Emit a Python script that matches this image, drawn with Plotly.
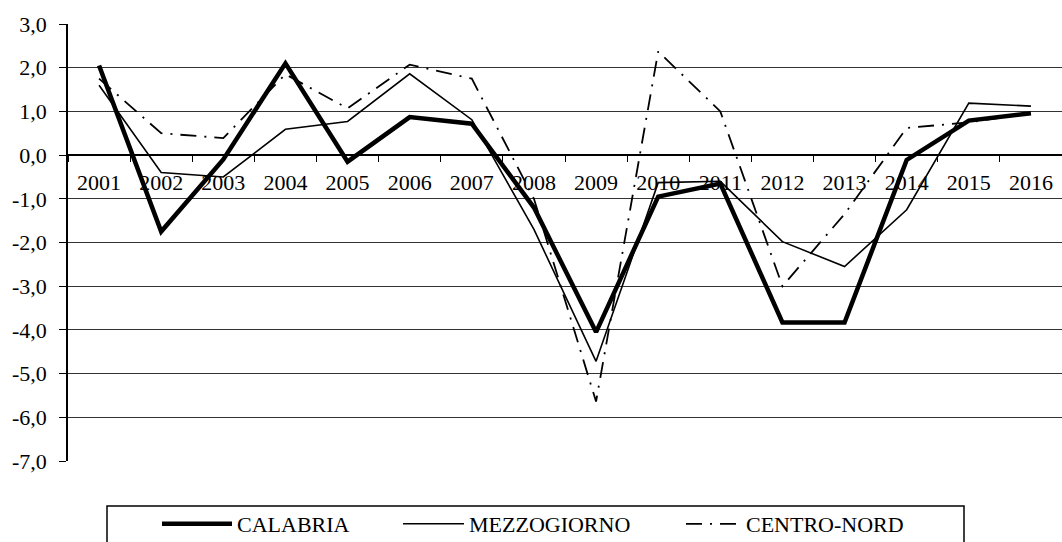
import plotly.graph_objects as go

years = ["2001", "2002", "2003", "2004", "2005", "2006", "2007", "2008",
         "2009", "2010", "2011", "2012", "2013", "2014", "2015", "2016"]
calabria = [2.05, -1.75, -0.10, 2.10, -0.15, 0.87, 0.72, -1.20,
            -4.05, -0.95, -0.65, -3.83, -3.83, -0.11, 0.79, 0.96]
mezzogiorno = [1.60, -0.40, -0.50, 0.59, 0.77, 1.86, 0.81, -1.70,
               -4.72, -0.63, -0.60, -1.98, -2.55, -1.25, 1.19, 1.12]
centro_nord = [1.75, 0.50, 0.39, 1.85, 1.07, 2.07, 1.75, -1.00,
               -5.64, 2.37, 1.00, -3.00, -1.35, 0.62, 0.75, 0.95]

y_tick_vals = [3, 2, 1, 0, -1, -2, -3, -4, -5, -6, -7]
y_tick_labels = ["3,0", "2,0", "1,0", "0,0", "-1,0", "-2,0", "-3,0",
                 "-4,0", "-5,0", "-6,0", "-7,0"]

FONT = "Liberation Serif"
W, H = 1062, 542
ML, MR, MT, MB = 68, 0, 24, 81

fig = go.Figure()
fig.add_trace(go.Scatter(x=years, y=centro_nord, mode="lines", name="CENTRO-NORD",
                         line=dict(color="black", width=1.8, dash="16px,8px,2px,8px"),
                         legend="legend3"))
fig.add_trace(go.Scatter(x=years, y=mezzogiorno, mode="lines", name="MEZZOGIORNO",
                         line=dict(color="black", width=1.6), legend="legend2"))
fig.add_trace(go.Scatter(x=years, y=calabria, mode="lines", name="CALABRIA",
                         line=dict(color="black", width=4.5), legend="legend"))

def leg(xpx, iw):
    return dict(xref="container", yref="container", x=xpx / W, y=1 - 524 / H,
                xanchor="left", yanchor="middle", bgcolor="rgba(0,0,0,0)",
                borderwidth=0, itemwidth=iw, orientation="h",
                font=dict(family=FONT, size=22, color="black"))

fig.update_layout(
    width=W, height=H,
    margin=dict(l=ML, r=MR, t=MT, b=MB),
    plot_bgcolor="white", paper_bgcolor="white",
    showlegend=True,
    legend=leg(157, 70),
    legend2=leg(398, 61),
    legend3=leg(681, 55),
    xaxis=dict(
        type="category", range=[-0.5, 15.5], anchor="free", position=0.7,
        showline=True, linecolor="black", linewidth=1.5,
        showgrid=False, zeroline=False,
        ticks="outside", ticklen=6, tickwidth=1.2, tickcolor="black",
        tickson="boundaries", ticklabelstandoff=8,
        tickfont=dict(family=FONT, size=22, color="black"),
    ),
    yaxis=dict(
        range=[-7, 3], tickvals=y_tick_vals, ticktext=y_tick_labels,
        showline=True, linecolor="black", linewidth=1.5,
        showgrid=True, gridcolor="#333333", gridwidth=1.3, zeroline=False,
        ticks="outside", ticklen=7, tickwidth=1.2, tickcolor="black",
        ticklabelstandoff=8,
        tickfont=dict(family=FONT, size=22, color="black"),
    ),
    shapes=[dict(type="rect", xref="paper", yref="paper",
                 x0=(107 - ML) / (W - ML - MR), x1=(964 - ML) / (W - ML - MR),
                 y0=-(548 - (H - MB)) / (H - MT - MB), y1=-(506 - (H - MB)) / (H - MT - MB),
                 line=dict(color="black", width=1.5), fillcolor="rgba(0,0,0,0)")],
)

fig.write_html("out.html", config={"displayModeBar": False},
               post_script="document.body.style.margin='0';document.body.style.padding='0';")
